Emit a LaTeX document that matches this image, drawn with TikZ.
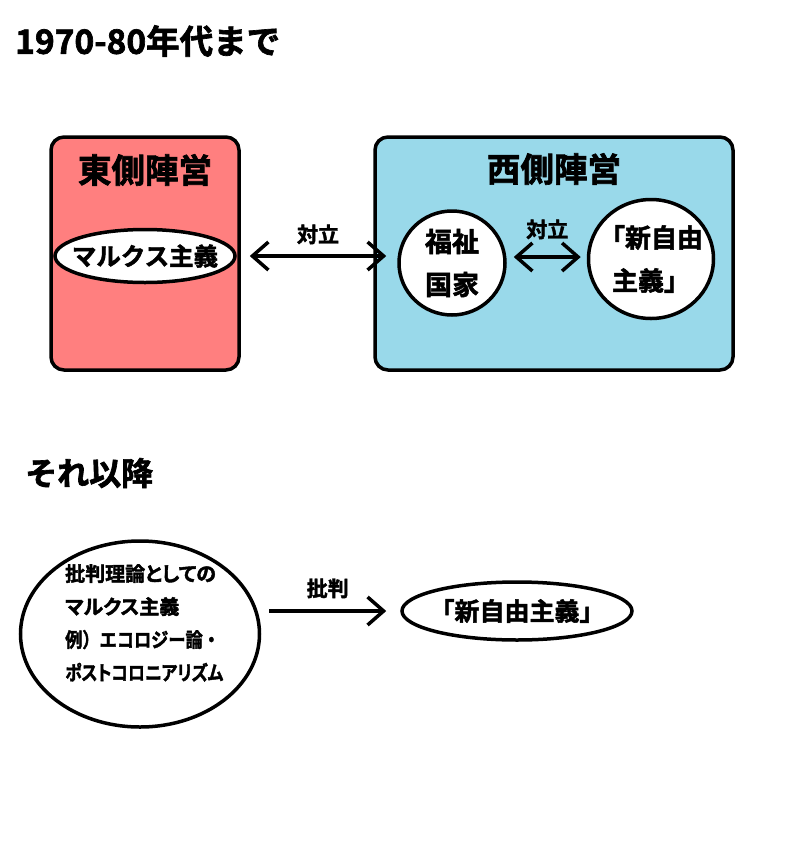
\documentclass[tikz,border=0pt]{standalone}
\usepackage{fontspec}
\setmainfont{Noto Sans CJK JP}[BoldFont={Noto Sans CJK JP Bold},BoldFeatures={FakeBold=2}]
\newfontfamily\paltfont{Noto Sans CJK JP Bold}[RawFeature=+palt,FakeBold=2]
\newfontfamily\plainboldfont{Noto Sans CJK JP Bold}[FakeBold=2]
\usetikzlibrary{shapes.geometric,arrows.meta}
\definecolor{eastred}{HTML}{FF7F7F}
\definecolor{westblue}{HTML}{99D9EA}
\tikzset{
  heading/.style={anchor=west,inner sep=0pt,font=\fontsize{33.5}{38}\selectfont\bfseries},
  camp/.style={draw=black,line width=3.5pt,rounded corners=13pt},
  camptitle/.style={inner sep=0pt,font=\fontsize{33.5}{38}\selectfont\bfseries},
  ovalshape/.style={draw=black,line width=3.5pt,fill=white,ellipse,inner sep=0pt},
  intext/.style={inner sep=0pt,align=center},
  barb/.tip={Straight Barb[length=16pt,width=28pt]},
  conn/.style={line width=3.5pt,barb-barb},
  conn1/.style={line width=3.5pt,-barb},
  lbl/.style={inner sep=0pt,font=\fontsize{21}{24}\selectfont\bfseries},
}
\begin{document}
\begin{tikzpicture}[x=1pt,y=-1pt]
\useasboundingbox (0,0) rectangle (800,847);
\fill[white] (0,0) rectangle (800,847);

\node[heading] (t1) at (15,41) {1970-80年代まで};

\node[camp,fill=eastred,minimum width=188pt,minimum height=233pt] (east) at (145,253.5) {};
\node[camptitle] (eastt) at (145,170) {東側陣営};
\node[ovalshape,minimum width=180pt,minimum height=53pt] (marx) at (145,256) {};
\node[intext,font=\fontsize{24.5}{30}\selectfont\bfseries] (marxt) at (marx.center) {マルクス主義};

\node[camp,fill=westblue,minimum width=358pt,minimum height=233pt] (west) at (554,253.5) {};
\node[camptitle] (westt) at (554,169) {西側陣営};
\node[ovalshape,minimum width=106pt,minimum height=104pt] (fuku) at (452,263) {};
\node[intext,font=\fontsize{27}{43}\selectfont\bfseries] (fukut) at (fuku.center) {福祉\\国家};
\node[ovalshape,minimum width=125pt,minimum height=119pt] (neo) at (651,259) {};
\node[intext,font=\fontsize{26}{43}\selectfont\bfseries] (neot) at (neo.center) {「新自由\\主義」};

\draw[conn] ([xshift=13pt]marx.east) -- ([xshift=-11pt]marx.east -| fuku.west) node[lbl,midway,above=10pt] (l1) {対立};
\draw[conn] ([xshift=7pt,yshift=6pt]fuku.east) -- ([xshift=-6pt,yshift=6pt]fuku.east -| neo.west) node[lbl,midway,above=16pt] (l2) {対立};

\node[heading,font=\fontsize{32}{36}\selectfont\bfseries] (t2) at (25,473) {それ以降};

\node[ovalshape,minimum width=239pt,minimum height=186pt] (crit) at (140,634) {};
\node[anchor=north west,inner sep=0pt,align=left,font=\fontsize{20}{33}\paltfont] (crittext) at (65,564) {批判理論としての\\マルクス主義\\\scalebox{0.86}[1]{\plainboldfont 例）エコロジー論・}\\\scalebox{0.84}[1]{ポストコロニアリズム}};

\node[ovalshape,minimum width=230pt,minimum height=58pt] (neo2) at (517,611) {};
\node[intext,font=\fontsize{25}{30}\selectfont\bfseries] (neo2t) at (neo2.center) {「新自由主義」};

\draw[conn1] ([xshift=8pt]crit.east |- neo2.west) -- ([xshift=-14pt]neo2.west) node[lbl,midway,above=11pt] (l3) {批判};
\end{tikzpicture}
\end{document}
